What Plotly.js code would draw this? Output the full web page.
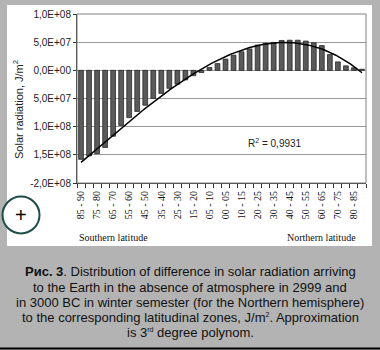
<!DOCTYPE html>
<html>
<head>
<meta charset="utf-8">
<script src="https://cdn.plot.ly/plotly-3.0.1.min.js"></script>
<style>html,body{margin:0;padding:0;background:#b3b3b3;}#chart{width:380px;height:350px;}</style>
</head>
<body>
<div id="chart"></div>
<script>
// ---- data ----
const southZones = ['85 - 90','80 - 85','75 - 80','70 - 75','65 - 70','60 - 65','55 - 60','50 - 55','45 - 50',
                    '40 - 45','35 - 40','30 - 35','25 - 30','20 - 25','15 - 20','10 - 15','05 - 10','00 - 05'];
const northZones = ['00 - 05','05 - 10','10 - 15','15 - 20','20 - 25','25 - 30','30 - 35','35 - 40','40 - 45',
                    '45 - 50','50 - 55','55 - 60','60 - 65','65 - 70','70 - 75','75 - 80','80 - 85','85 - 90'];
const southValues = [-1.58e8,-1.52e8,-1.48e8,-1.37e8,-1.17e8,-0.98e8,-0.84e8,-0.73e8,-0.62e8,
                     -0.50e8,-0.41e8,-0.32e8,-0.245e8,-0.17e8,-0.095e8,-0.04e8,0.5e7,1.2e7];
const northValues = [2.0e7,2.7e7,3.3e7,3.8e7,4.5e7,4.8e7,4.95e7,5.3e7,5.35e7,
                     5.35e7,5.2e7,4.9e7,4.4e7,2.8e7,1.5e7,0.8e7,0.45e7,0.2e7];
const yTickValues = [1e8,5e7,0,-5e7,-1e8,-1.5e8,-2e8];
const yTickLabels = ['1,0E+08','5,0E+07','0,0E+00','5,0E+07','1,0E+08','1,5E+08','-2,0E+08'];
const r2Text = 'R<sup>2</sup> = 0,9931';
const smallSup = s => '<sup><span style="font-size:7px">' + s + '</span></sup>';
const captionLines = [
  '<b>Рис. 3</b>. Distribution of difference in solar radiation arriving',
  'to the Earth in the absence of atmosphere in 2999 and',
  'in 3000 BC in winter semester (for the Northern hemisphere)',
  'to the corresponding latitudinal zones, J/m' + smallSup('2') + '. Approximation',
  'is 3' + smallSup('rd') + ' degree polynom.'
];

// ---- build ----
const categories = southZones.map(z => 'S ' + z).concat(northZones.map(z => 'N ' + z));
const labels = southZones.concat(northZones);
const values = southValues.concat(northValues);
const tickText = labels.map((l, i) => (i % 2 === 0 ? l : ''));

// cubic least-squares trendline (as the spreadsheet's polynomial trendline, x = 1..n)
function polyFit(xs, ys, deg) {
  const n = deg + 1;
  const A = Array.from({length: n}, () => new Array(n + 1).fill(0));
  for (let k = 0; k < xs.length; k++) {
    for (let i = 0; i < n; i++) {
      for (let j = 0; j < n; j++) A[i][j] += Math.pow(xs[k], i + j);
      A[i][n] += ys[k] * Math.pow(xs[k], i);
    }
  }
  for (let c = 0; c < n; c++) {
    let p = c;
    for (let r = c + 1; r < n; r++) if (Math.abs(A[r][c]) > Math.abs(A[p][c])) p = r;
    [A[c], A[p]] = [A[p], A[c]];
    for (let r = 0; r < n; r++) {
      if (r === c) continue;
      const f = A[r][c] / A[c][c];
      for (let j = c; j <= n; j++) A[r][j] -= f * A[c][j];
    }
  }
  return A.map((row, i) => row[n] / row[i]);
}
const xsFit = values.map((v, i) => i + 1);
const coef = polyFit(xsFit, values, 3);
const trendX = [], trendY = [];
for (let t = 0; t <= values.length - 1 + 1e-9; t += 0.25) {
  const x = t + 1;
  trendX.push(t);
  trendY.push(coef[0] + coef[1] * x + coef[2] * x * x + coef[3] * x * x * x);
}

// pixel -> paper helpers
const L = 77, R = 14, T = 14, B = 167, W = 380, H = 350;
const PW = W - L - R, PH = H - T - B;
const px = X => (X - L) / PW;
const py = Y => (H - B - Y) / PH;

const traces = [
  {type: 'bar', x: categories, y: values,
   marker: {color: '#5a5a5a', line: {color: '#1a1a1a', width: 0.7}},
   hoverinfo: 'skip', showlegend: false},
  {type: 'scatter', mode: 'lines', x: trendX, y: trendY, xaxis: 'x2',
   line: {color: '#000', width: 1.5}, hoverinfo: 'skip', showlegend: false}
];

const captionBottom = [280, 295.5, 311, 325.5, 340.5];
const annotations = [
  {xref: 'paper', yref: 'paper', x: px(18), y: py(110), text: 'Solar radiation, J/m<sup>2</sup>',
   textangle: -90, showarrow: false, font: {family: 'Liberation Sans, Arial', size: 11, color: '#222'},
   xanchor: 'center', yanchor: 'middle'},
  {xref: 'paper', yref: 'paper', x: px(275), y: py(143), text: r2Text, showarrow: false,
   font: {family: 'Liberation Sans, Arial', size: 10, color: '#222'}, xanchor: 'center', yanchor: 'middle'},
  {xref: 'paper', yref: 'paper', x: px(113), y: py(237), text: 'Southern latitude', showarrow: false,
   font: {family: 'Liberation Serif, Times New Roman', size: 10, color: '#111'}, xanchor: 'center', yanchor: 'middle'},
  {xref: 'paper', yref: 'paper', x: px(321.5), y: py(237), text: 'Northern latitude', showarrow: false,
   font: {family: 'Liberation Serif, Times New Roman', size: 10, color: '#111'}, xanchor: 'center', yanchor: 'middle'},
  {xref: 'paper', yref: 'paper', x: px(21), y: py(215), text: '+', showarrow: false,
   font: {family: 'Liberation Sans, Arial', size: 20, color: '#000'}, xanchor: 'center', yanchor: 'middle'}
].concat(captionLines.map((t, i) => ({
  xref: 'paper', yref: 'paper', x: px(190), y: py(captionBottom[i]), text: t, showarrow: false,
  borderpad: 0,
  font: {family: 'Liberation Sans, Arial', size: 13, color: '#111'}, xanchor: 'center', yanchor: 'bottom'
})));

const shapes = [
  {type: 'rect', xref: 'paper', yref: 'paper', layer: 'below',
   x0: px(7), x1: px(372), y0: py(5), y1: py(246), fillcolor: '#ffffff', line: {width: 0}},
  {type: 'rect', xref: 'paper', yref: 'paper', layer: 'above',
   x0: 0, x1: 1, y0: 0, y1: 1, line: {color: '#808080', width: 1}},
  {type: 'circle', xref: 'paper', yref: 'paper', layer: 'above',
   x0: px(2.5), x1: px(39.5), y0: py(196.5), y1: py(233.5), fillcolor: '#ffffff',
   line: {color: '#1d4d4a', width: 2}},
  {type: 'line', xref: 'paper', yref: 'paper', layer: 'above',
   x0: px(0), x1: px(380), y0: py(348.5), y1: py(348.5), line: {color: '#000', width: 2}}
];

const layout = {
  width: W, height: H,
  margin: {l: L, r: R, t: T, b: B, pad: 0},
  paper_bgcolor: '#b3b3b3', plot_bgcolor: '#ffffff',
  bargap: 0.4,
  xaxis: {type: 'category', categoryorder: 'array', categoryarray: categories,
          range: [-0.5, categories.length - 0.5],
          tickmode: 'array', tickvals: categories, ticktext: tickText,
          tickson: 'boundaries', ticks: 'outside', ticklen: 4, tickcolor: '#333',
          tickangle: -90, ticklabelstandoff: 3,
          tickfont: {family: 'Liberation Serif, Times New Roman', size: 10, color: '#111'},
          showline: true, linecolor: '#333', linewidth: 1, showgrid: false, zeroline: false, fixedrange: true},
  xaxis2: {overlaying: 'x', range: [-0.5, categories.length - 0.5], visible: false, fixedrange: true},
  yaxis: {range: [-2e8, 1e8], tickmode: 'array', tickvals: yTickValues, ticktext: yTickLabels,
          ticks: 'outside', ticklen: 3, tickcolor: '#333',
          tickfont: {family: 'Liberation Sans, Arial', size: 10, color: '#222'},
          showline: true, linecolor: '#333', linewidth: 1,
          showgrid: true, gridcolor: '#999', gridwidth: 1, zeroline: false, fixedrange: true},
  shapes: shapes,
  annotations: annotations,
  showlegend: false
};

Plotly.newPlot('chart', traces, layout, {displayModeBar: false, staticPlot: true});
</script>
</body>
</html>
